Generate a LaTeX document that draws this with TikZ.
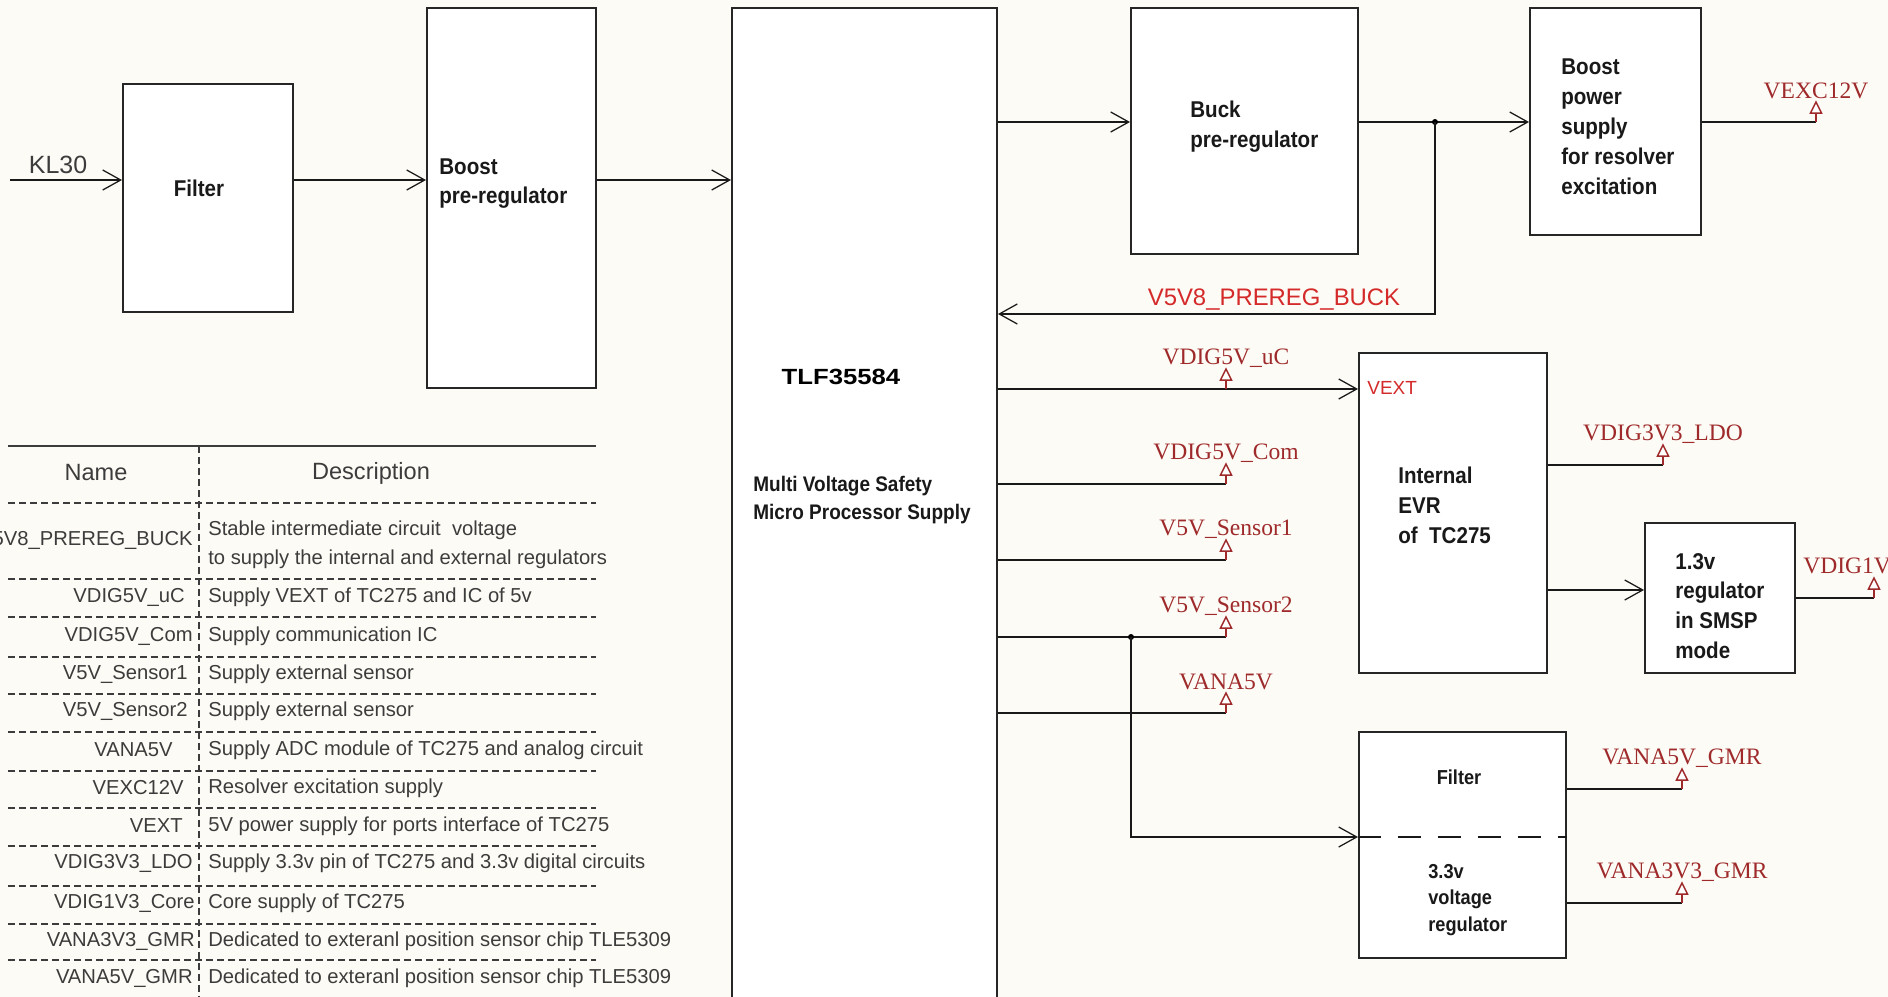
\documentclass[tikz,border=0pt]{standalone}
\usepackage{fontspec}
\setmainfont{Liberation Sans}
\newfontfamily\boxfont[FakeStretch=0.9]{Liberation Sans}
\newfontfamily\chipfont[FakeStretch=1.17]{Liberation Sans}
\newfontfamily\portfont{Liberation Serif}
\usetikzlibrary{positioning,calc,arrows.meta}
\definecolor{paper}{HTML}{FDFBF5}
\definecolor{portred}{HTML}{9E2A2B}
\definecolor{netred}{HTML}{D42A2A}
\definecolor{tblgray}{HTML}{3C3C3C}

\begin{document}
\begin{tikzpicture}[
  x=0.2mm, y=-0.2mm,
  blk/.style={draw=black!85, fill=white, line width=0.4mm, inner sep=0pt},
  blktxt/.style={align=left, inner sep=0pt, text=black!90,
                 font=\boxfont\bfseries\fontsize{13}{17}\selectfont},
  smalltxt/.style={blktxt, font=\boxfont\bfseries\fontsize{11.5}{15.3}\selectfont},
  wire/.style={line width=0.4mm, black!90},
  feed/.style={wire, -{Straight Barb[length=3.6mm, width=4mm, line width=0.25mm]}},
  dot/.style={fill=black},
  portlbl/.style={inner sep=0pt, text=portred, font=\portfont\fontsize{13.4}{16}\selectfont},
  netlbl/.style={inner sep=0pt, text=netred, font=\fontsize{13.6}{16}\selectfont},
  tline/.style={line width=0.3mm, tblgray},
  tdash/.style={tline, dash pattern=on 1.4mm off 0.8mm},
  tname/.style={anchor=east, inner sep=0pt, text=tblgray, font=\fontsize{11.5}{16.5}\selectfont},
  tdesc/.style={anchor=west, align=left, inner sep=0pt, text=tblgray, font=\fontsize{11.5}{16.5}\selectfont},
  thead/.style={inner sep=0pt, text=tblgray, font=\fontsize{13.4}{16}\selectfont},
  port/.pic={
    \draw[portred, line width=0.3mm] (0,0) -- (0,-9);
    \draw[portred, line width=0.3mm, fill=white] (-5.5,-9) -- (0,-20) -- (5.5,-9) -- cycle;
  },
]
\useasboundingbox (0,0) rectangle (1888,997);
\clip (0,0) rectangle (1888,997);
\fill[paper] (0,0) rectangle (1888,997);

% Blocks
\node[blk, minimum width=34mm, minimum height=45.6mm] (filt) at (208,198) {};
\node[blktxt] (filt-t) at (199,188) {Filter};

\node[blk, minimum width=33.8mm, minimum height=76mm] (boost) at (511.5,198) {};
\node[blktxt, anchor=west] (boost-t) at (439,183.5) {Boost\\pre-regulator};

\node[blk, minimum width=53mm, minimum height=200.4mm] (tlf) at (864.5,509) {};
\node[inner sep=0pt, font=\chipfont\bfseries\fontsize{12.5}{15}\selectfont] (tlf-n) at (841,377) {TLF35584};
\node[blktxt, anchor=west, font=\boxfont\bfseries\fontsize{12}{16}\selectfont] (tlf-d) at (753,500)
  {Multi Voltage Safety\\Micro Processor Supply};

\node[blk, minimum width=45.4mm, minimum height=49.2mm] (buck) at (1244.5,131) {};
\node[blktxt, anchor=west] (buck-t) at (1190,126.5) {Buck\\pre-regulator};

\node[blk, minimum width=34.2mm, minimum height=45.4mm] (resx) at (1615.5,121.5) {};
\node[blktxt, anchor=west] (resx-t) at (1561,126.5) {Boost\\power\\supply\\for resolver\\excitation};

\node[blk, minimum width=37.6mm, minimum height=64mm] (evr) at (1453,513) {};
\node[blktxt, anchor=west] (evr-t) at (1398,505) {Internal\\EVR\\of~ TC275};

\node[blk, minimum width=30mm, minimum height=30mm] (core) at (1720,598) {};
\node[blktxt, anchor=west] (core-t) at (1675,606) {1.3v\\regulator\\in SMSP\\mode};

\node[blk, minimum width=41.4mm, minimum height=45.2mm] (gmr) at (1462.5,845) {};
\node[smalltxt] (gmr-f) at (1459,777) {Filter};
\node[smalltxt, anchor=west] (gmr-t) at (1428,900) {3.3v\\voltage\\regulator};

% Input chain
\coordinate (kl) at (10,180);
\node[inner sep=0pt, text=tblgray, font=\fontsize{14.2}{16}\selectfont] (kl-t) at (58,165) {KL30};
\draw[feed] (kl) -- (kl -| filt.west);
\draw[feed] (filt.east |- kl) -- (kl -| boost.west);
\draw[feed] (boost.east |- kl) -- (kl -| tlf.west);

% Buck and resolver supply
\coordinate (jb) at (1435,122);
\coordinate (fb) at (1435,314);
\coordinate (pexc) at (1816,122);
\draw[feed] (tlf.east |- jb) -- (jb -| buck.west);
\draw[feed] (buck.east |- jb) -- (jb -| resx.west);
\fill[dot] (jb) circle[radius=0.6mm];
\draw[feed] (jb) -- (fb) -- (fb -| tlf.east);
\node[netlbl] (fb-t) at (1274,300) {V5V8\_PREREG\_BUCK};
\draw[wire] (resx.east |- pexc) -- (pexc);
\pic (exc) at (pexc) {port};
\node[portlbl] (exc-l) at ([yshift=6.2mm]pexc) {VEXC12V};

% TLF outputs
\coordinate (puc) at (1226,389);
\coordinate (pcom) at (1226,484);
\coordinate (ps1) at (1226,560);
\coordinate (ps2) at (1226,637);
\coordinate (pana) at (1226,713);
\draw[feed] (tlf.east |- puc) -- (puc -| evr.west);
\draw[wire] (tlf.east |- pcom) -- (pcom);
\draw[wire] (tlf.east |- ps1) -- (ps1);
\draw[wire] (tlf.east |- ps2) -- (ps2);
\draw[wire] (tlf.east |- pana) -- (pana);
\pic (uc) at (puc) {port};
\pic (com) at (pcom) {port};
\pic (s1) at (ps1) {port};
\pic (s2) at (ps2) {port};
\pic (ana) at (pana) {port};
\node[portlbl] (uc-l) at ([yshift=6.2mm]puc) {VDIG5V\_uC};
\node[portlbl] (com-l) at ([yshift=6.2mm]pcom) {VDIG5V\_Com};
\node[portlbl] (s1-l) at ([yshift=6.2mm]ps1) {V5V\_Sensor1};
\node[portlbl] (s2-l) at ([yshift=6.2mm]ps2) {V5V\_Sensor2};
\node[portlbl] (ana-l) at ([yshift=6.2mm]pana) {VANA5V};
\node[netlbl, anchor=west, font=\fontsize{10.8}{13}\selectfont] (vext) at (1367,388) {VEXT};

% branch to GMR supply
\coordinate (j2) at (1131,637);
\coordinate (j3) at (1131,837);
\fill[dot] (j2) circle[radius=0.6mm];
\draw[feed] (j2) -- (j3) -- (j3 -| gmr.west);
\draw[wire, dash pattern=on 4.6mm off 3.4mm] (j3 -| gmr.west) -- (j3 -| gmr.east);

% EVR outputs
\coordinate (pldo) at (1663,465);
\coordinate (pcore) at (1874,598);
\draw[wire] (evr.east |- pldo) -- (pldo);
\draw[feed] (evr.east |- 0,590) -- (core.west |- 0,590);
\draw[wire] (core.east |- pcore) -- (pcore);
\pic (ldo) at (pldo) {port};
\pic (cr) at (pcore) {port};
\node[portlbl] (ldo-l) at ([yshift=6.2mm]pldo) {VDIG3V3\_LDO};
\node[portlbl, anchor=west] (cr-l) at (1803,567) {VDIG1V3\_Core};

% GMR outputs
\coordinate (pa5) at (1682,789);
\coordinate (pa3) at (1682,903);
\draw[wire] (gmr.east |- pa5) -- (pa5);
\draw[wire] (gmr.east |- pa3) -- (pa3);
\pic (a5) at (pa5) {port};
\pic (a3) at (pa3) {port};
\node[portlbl] (a5-l) at ([yshift=6.2mm]pa5) {VANA5V\_GMR};
\node[portlbl] (a3-l) at ([yshift=6.2mm]pa3) {VANA3V3\_GMR};

% Table
\draw[tline] (8,446) -- (596,446);
\draw[tdash] (199,446) -- (199,1000);
\draw[tdash] (8,503) -- (596,503) (8,579) -- (596,579) (8,617) -- (596,617)
  (8,657) -- (596,657) (8,694) -- (596,694) (8,732) -- (596,732)
  (8,771) -- (596,771) (8,808) -- (596,808) (8,846) -- (596,846)
  (8,886) -- (596,886) (8,924) -- (596,924) (8,960) -- (596,960);
\node[thead] (h-name) at (96,473) {Name};
\node[thead] (h-desc) at (371,473) {Description};

\node[tname] (n1) at (193,540) {V5V8\_PREREG\_BUCK};
\node[tdesc] (d1) at (208,544.5) {Stable intermediate circuit~ voltage\\to supply the internal and external regulators};
\node[tname] (n2) at (185,597) {VDIG5V\_uC};
\node[tdesc] (d2) at (208,597) {Supply VEXT of TC275 and IC of 5v};
\node[tname] (n3) at (193,636) {VDIG5V\_Com};
\node[tdesc] (d3) at (208,636) {Supply communication IC};
\node[tname] (n4) at (188,674) {V5V\_Sensor1};
\node[tdesc] (d4) at (208,674) {Supply external sensor};
\node[tname] (n5) at (188,711) {V5V\_Sensor2};
\node[tdesc] (d5) at (208,711) {Supply external sensor};
\node[tname] (n6) at (173,750) {VANA5V};
\node[tdesc] (d6) at (208,750) {Supply ADC module of TC275 and analog circuit};
\node[tname] (n7) at (184,788) {VEXC12V};
\node[tdesc] (d7) at (208,788) {Resolver excitation supply};
\node[tname] (n8) at (183,826) {VEXT};
\node[tdesc] (d8) at (208,826) {5V power supply for ports interface of TC275};
\node[tname] (n9) at (193,863) {VDIG3V3\_LDO};
\node[tdesc] (d9) at (208,863) {Supply 3.3v pin of TC275 and 3.3v digital circuits};
\node[tname] (n10) at (195,903) {VDIG1V3\_Core};
\node[tdesc] (d10) at (208,903) {Core supply of TC275};
\node[tname] (n11) at (195,941) {VANA3V3\_GMR};
\node[tdesc] (d11) at (208,941) {Dedicated to exteranl position sensor chip TLE5309};
\node[tname] (n12) at (193,978) {VANA5V\_GMR};
\node[tdesc] (d12) at (208,978) {Dedicated to exteranl position sensor chip TLE5309};

\end{tikzpicture}
\end{document}
